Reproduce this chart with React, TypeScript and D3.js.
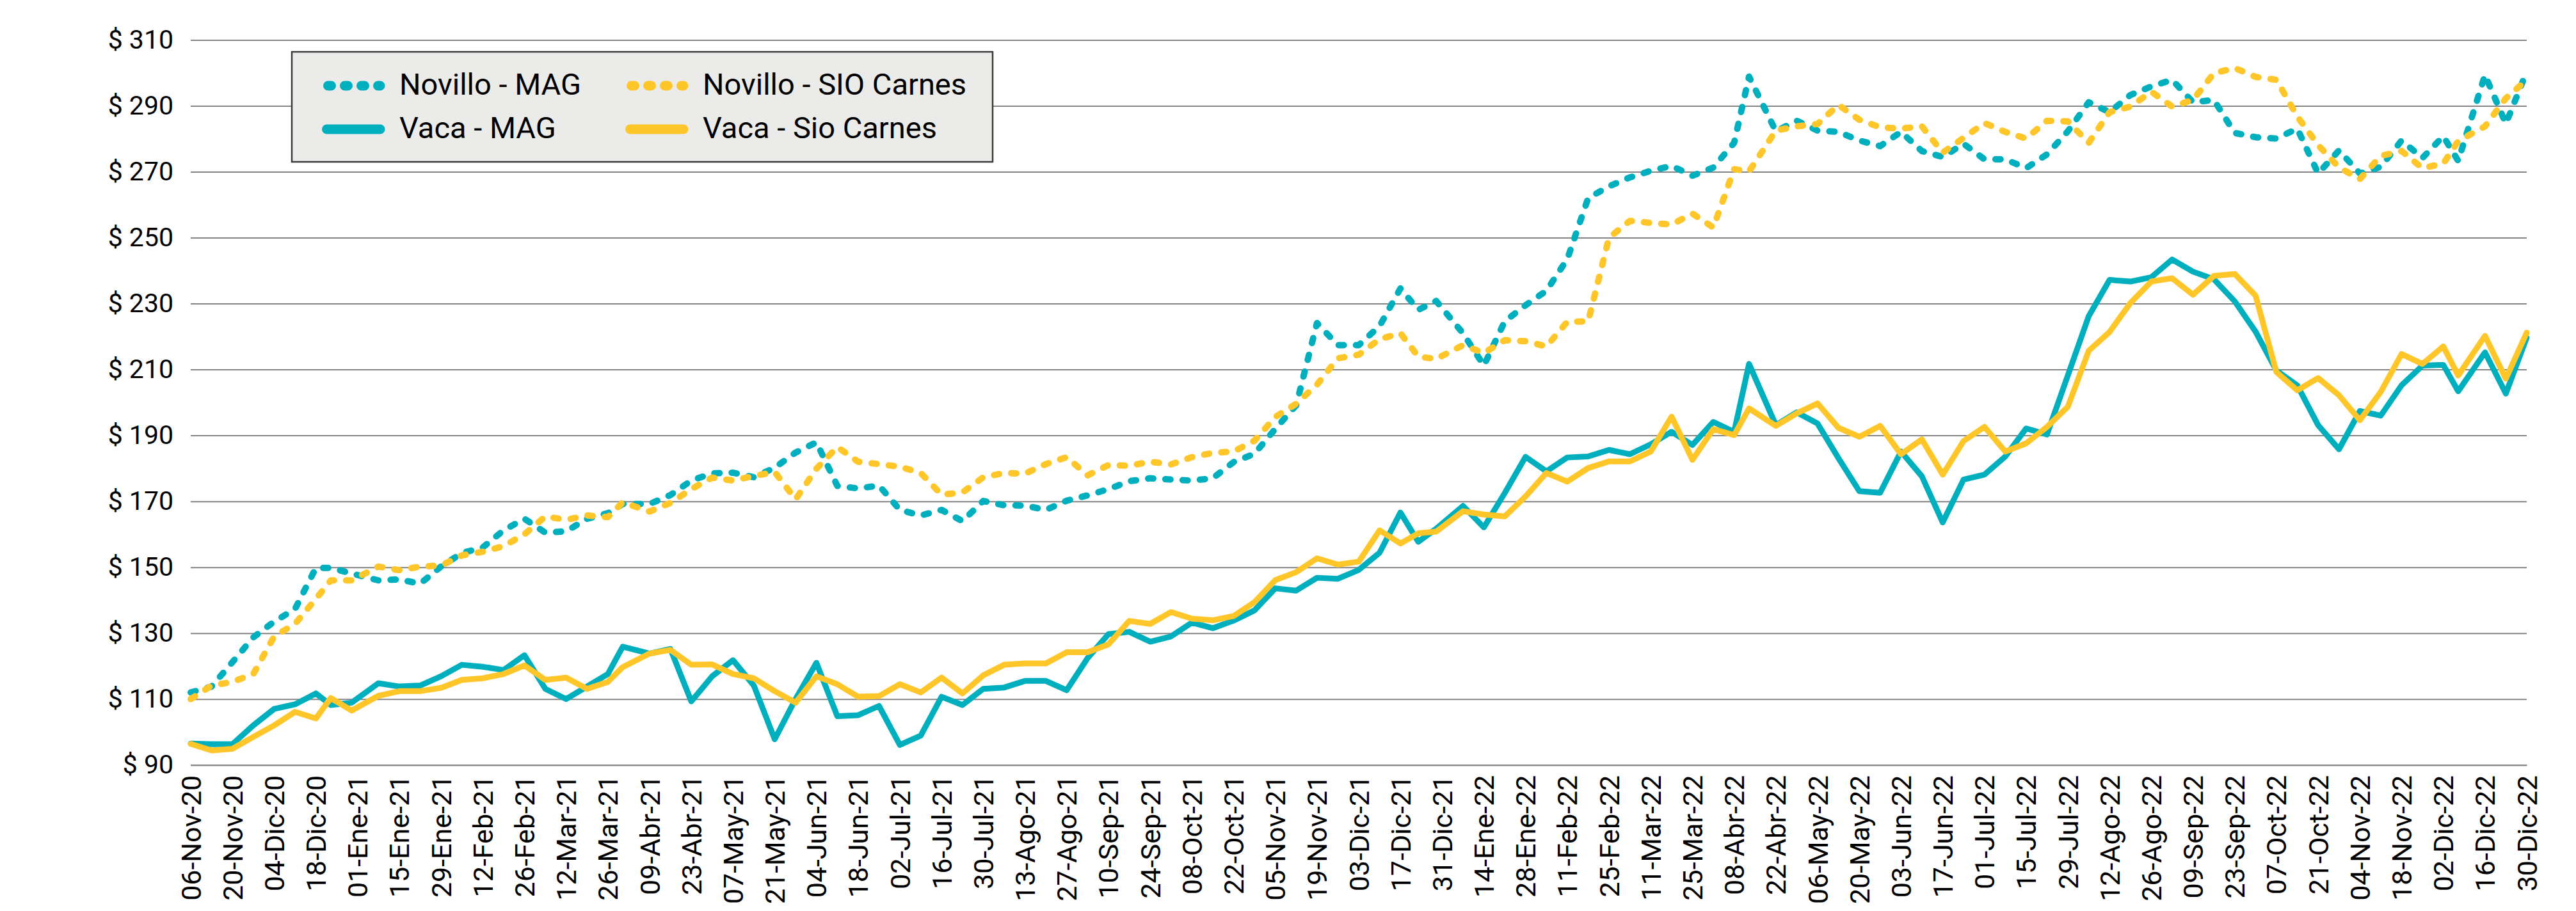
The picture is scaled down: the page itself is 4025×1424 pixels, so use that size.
import * as d3 from 'd3';
import { useRef, useEffect } from 'react';

// weekly quotes (Friday, moved earlier when the Friday was a holiday)
const dates = [
  '2020-11-06', '2020-11-13', '2020-11-20', '2020-11-27', '2020-12-04', '2020-12-11', '2020-12-18', '2020-12-23',
  '2020-12-30', '2021-01-08', '2021-01-15', '2021-01-22', '2021-01-29', '2021-02-05', '2021-02-12', '2021-02-19',
  '2021-02-26', '2021-03-05', '2021-03-12', '2021-03-19', '2021-03-26', '2021-03-31', '2021-04-09', '2021-04-16',
  '2021-04-23', '2021-04-30', '2021-05-07', '2021-05-14', '2021-05-21', '2021-05-28', '2021-06-04', '2021-06-11',
  '2021-06-18', '2021-06-25', '2021-07-02', '2021-07-09', '2021-07-16', '2021-07-23', '2021-07-30', '2021-08-06',
  '2021-08-13', '2021-08-20', '2021-08-27', '2021-09-03', '2021-09-10', '2021-09-17', '2021-09-24', '2021-10-01',
  '2021-10-08', '2021-10-15', '2021-10-22', '2021-10-29', '2021-11-05', '2021-11-12', '2021-11-19', '2021-11-26',
  '2021-12-03', '2021-12-10', '2021-12-17', '2021-12-23', '2021-12-29', '2022-01-07', '2022-01-14', '2022-01-21',
  '2022-01-28', '2022-02-04', '2022-02-11', '2022-02-18', '2022-02-25', '2022-03-04', '2022-03-11', '2022-03-18',
  '2022-03-25', '2022-04-01', '2022-04-08', '2022-04-13', '2022-04-22', '2022-04-29', '2022-05-06', '2022-05-13',
  '2022-05-20', '2022-05-27', '2022-06-03', '2022-06-10', '2022-06-17', '2022-06-24', '2022-07-01', '2022-07-08',
  '2022-07-15', '2022-07-22', '2022-07-29', '2022-08-05', '2022-08-12', '2022-08-19', '2022-08-26', '2022-09-02',
  '2022-09-09', '2022-09-16', '2022-09-23', '2022-09-30', '2022-10-07', '2022-10-14', '2022-10-21', '2022-10-28',
  '2022-11-04', '2022-11-11', '2022-11-18', '2022-11-25', '2022-12-02', '2022-12-07', '2022-12-16', '2022-12-23',
  '2022-12-30',
];

const novilloMag = [
  112.0, 113.8, 121.2, 128.7, 133.5, 137.3, 149.8, 149.8, 148.1, 146.0, 146.3, 145.0, 150.2, 154.3, 156.0, 161.2,
  164.7, 160.5, 160.9, 164.7, 166.4, 169.2, 169.2, 171.9, 176.3, 178.5, 178.7, 177.3, 180.2, 184.8, 187.9, 174.7,
  173.9, 174.8, 167.4, 165.7, 167.4, 164.0, 170.1, 168.8, 168.7, 167.4, 170.2, 171.8, 173.7, 176.1, 177.0, 176.6,
  176.3, 177.0, 181.9, 184.4, 192.0, 199.1, 224.1, 217.4, 217.4, 223.2, 234.6, 228.1, 230.8, 221.0, 211.2, 224.6,
  229.5, 233.9, 243.5, 262.0, 265.6, 268.3, 270.3, 271.8, 268.8, 271.3, 278.8, 298.9, 282.3, 285.5, 282.5, 282.1,
  279.5, 277.8, 282.1, 276.3, 274.5, 278.5, 273.8, 273.8, 271.1, 275.3, 282.3, 291.1, 288.1, 293.3, 295.9, 297.9,
  291.1, 291.8, 281.8, 280.5, 280.1, 283.1, 269.5, 276.5, 269.5, 271.5, 279.5, 274.2, 280.8, 273.3, 299.4, 284.6,
  300.4,
];

const novilloSio = [
  110.0, 114.1, 115.2, 117.6, 129.0, 132.8, 140.4, 146.0, 146.0, 150.2, 149.1, 150.2, 150.5, 153.6, 154.7, 156.4,
  160.0, 165.4, 164.4, 165.7, 165.2, 169.7, 166.9, 169.5, 173.7, 177.2, 176.3, 177.7, 178.9, 170.6, 179.9, 186.5,
  182.0, 181.3, 180.5, 178.6, 172.0, 172.7, 177.3, 178.6, 178.4, 181.3, 183.4, 177.9, 181.0, 180.8, 182.0, 181.2,
  183.4, 184.7, 185.1, 188.4, 195.6, 199.6, 205.4, 213.4, 214.5, 219.2, 221.0, 213.9, 213.2, 217.4, 215.0, 218.9,
  218.6, 217.0, 224.5, 224.6, 250.0, 255.1, 254.5, 254.0, 257.3, 253.1, 270.8, 270.1, 282.5, 283.8, 284.5, 290.3,
  285.8, 283.5, 283.1, 283.8, 275.8, 280.3, 284.8, 282.1, 280.1, 285.5, 285.3, 278.8, 288.1, 289.8, 294.3, 289.8,
  291.8, 299.9, 301.5, 298.8, 297.9, 286.8, 278.1, 271.3, 267.8, 274.8, 276.3, 271.1, 272.5, 279.3, 283.8, 292.3,
  297.9,
];

const vacaMag = [
  96.5, 96.3, 96.3, 102.0, 107.0, 108.4, 111.7, 108.2, 108.9, 114.8, 113.8, 114.1, 116.9, 120.4, 119.8, 118.8,
  123.3, 113.1, 110.0, 113.8, 117.6, 125.9, 123.8, 125.2, 109.3, 116.9, 121.8, 114.1, 97.8, 110.0, 121.0, 104.8,
  105.1, 107.9, 96.1, 98.9, 110.7, 108.2, 113.1, 113.5, 115.5, 115.5, 112.7, 122.4, 129.7, 130.4, 127.4, 129.0,
  133.2, 131.5, 133.8, 136.9, 143.6, 142.9, 146.8, 146.5, 149.2, 154.4, 166.6, 157.7, 161.7, 168.6, 162.1, 172.5,
  183.5, 179.1, 183.3, 183.6, 185.6, 184.3, 187.3, 191.1, 187.1, 194.1, 191.1, 211.7, 193.1, 197.0, 193.6, 183.1,
  173.1, 172.6, 185.1, 177.6, 163.6, 176.6, 178.1, 183.6, 192.1, 190.3, 208.2, 226.2, 237.2, 236.7, 238.0, 243.4,
  239.7, 237.4, 230.7, 221.5, 209.7, 205.2, 193.1, 185.8, 197.4, 196.0, 205.2, 211.2, 211.4, 203.4, 215.2, 202.7,
  219.7,
];

const vacaSio = [
  96.4, 94.4, 94.9, 98.5, 102.0, 106.1, 104.1, 110.3, 106.5, 111.0, 112.4, 112.4, 113.4, 115.8, 116.3, 117.6,
  120.2, 115.8, 116.5, 113.1, 115.2, 119.7, 123.8, 124.9, 120.4, 120.5, 117.6, 116.3, 112.4, 108.9, 116.9, 114.5,
  110.7, 110.9, 114.5, 112.0, 116.5, 111.7, 117.2, 120.4, 120.8, 120.8, 124.2, 124.2, 126.6, 133.7, 132.8, 136.4,
  134.4, 133.9, 135.2, 139.4, 146.1, 148.5, 152.7, 150.8, 151.7, 161.2, 157.2, 160.3, 160.8, 167.0, 166.0, 165.4,
  171.5, 178.6, 176.0, 180.1, 182.1, 182.1, 185.1, 195.7, 182.6, 191.9, 190.1, 198.2, 192.9, 196.7, 199.7, 192.3,
  189.6, 192.9, 184.3, 188.8, 178.1, 188.3, 192.6, 185.1, 187.6, 192.6, 198.7, 215.7, 221.4, 230.2, 236.7, 237.7,
  232.7, 238.4, 239.0, 232.4, 209.2, 203.7, 207.4, 202.2, 194.6, 203.2, 214.7, 211.7, 217.0, 208.2, 220.2, 207.2,
  221.2,
];

const tickLabels = [
  '06-Nov-20', '20-Nov-20', '04-Dic-20', '18-Dic-20', '01-Ene-21', '15-Ene-21', '29-Ene-21', '12-Feb-21',
  '26-Feb-21', '12-Mar-21', '26-Mar-21', '09-Abr-21', '23-Abr-21', '07-May-21', '21-May-21', '04-Jun-21',
  '18-Jun-21', '02-Jul-21', '16-Jul-21', '30-Jul-21', '13-Ago-21', '27-Ago-21', '10-Sep-21', '24-Sep-21',
  '08-Oct-21', '22-Oct-21', '05-Nov-21', '19-Nov-21', '03-Dic-21', '17-Dic-21', '31-Dic-21', '14-Ene-22',
  '28-Ene-22', '11-Feb-22', '25-Feb-22', '11-Mar-22', '25-Mar-22', '08-Abr-22', '22-Abr-22', '06-May-22',
  '20-May-22', '03-Jun-22', '17-Jun-22', '01-Jul-22', '15-Jul-22', '29-Jul-22', '12-Ago-22', '26-Ago-22',
  '09-Sep-22', '23-Sep-22', '07-Oct-22', '21-Oct-22', '04-Nov-22', '18-Nov-22', '02-Dic-22', '16-Dic-22',
  '30-Dic-22',
];

const yTicks = [90, 110, 130, 150, 170, 190, 210, 230, 250, 270, 290, 310];

const months: Record<string, number> = {
  Ene: 0, Feb: 1, Mar: 2, Abr: 3, May: 4, Jun: 5, Jul: 6, Ago: 7, Sep: 8, Oct: 9, Nov: 10, Dic: 11,
};

const TEAL = '#00AFBE';
const GOLD = '#FFC629';
const GRID = '#858585';

const App = () => {
  const svgRef = useRef<SVGSVGElement>(null);

  useEffect(() => {
    if (!svgRef.current) return;
    document.body.style.margin = '0';

    const W = 4025;
    const H = 1424;
    const left = 298;
    const right = 3948;
    const top = 62.5;
    const bottom = 1195.7;

    const svg = d3.select(svgRef.current).attr('width', W).attr('height', H);
    svg.selectAll('*').remove();

    const parse = d3.timeParse('%Y-%m-%d');
    const xDates = dates.map(d => parse(d) as Date);
    const tickDates = tickLabels.map(t => {
      const [dd, mm, yy] = t.split('-');
      return new Date(2000 + +yy, months[mm], +dd);
    });

    const x = d3.scaleTime()
      .domain([xDates[0], xDates[xDates.length - 1]])
      .range([left, right]);

    const y = d3.scaleLinear()
      .domain([90, 310])
      .range([bottom, top]);

    // gridlines + y labels
    const yAxis = svg.append('g')
      .attr('transform', `translate(${left},0)`)
      .call(d3.axisLeft(y)
        .tickValues(yTicks)
        .tickSize(-(right - left))
        .tickPadding(27)
        .tickFormat(d => `$ ${d}`));
    yAxis.select('.domain').remove();
    yAxis.selectAll('line').attr('stroke', GRID).attr('stroke-width', 2);
    yAxis.attr('font-family', 'Roboto').attr('font-size', 41);
    yAxis.selectAll('text').attr('fill', '#000');

    // x axis
    const xAxis = svg.append('g')
      .attr('transform', `translate(0,${bottom})`)
      .call(d3.axisBottom(x)
        .tickValues(tickDates)
        .tickSize(0)
        .tickFormat((_, i) => tickLabels[i]));
    xAxis.select('.domain').attr('stroke', GRID).attr('stroke-width', 2);
    xAxis.attr('font-family', 'Roboto').attr('font-size', 43);
    xAxis.selectAll('text')
      .attr('fill', '#000')
      .attr('transform', 'rotate(-90)')
      .attr('text-anchor', 'end')
      .attr('x', -16)
      .attr('y', 0)
      .attr('dy', '0.35em');

    const series = [
      { name: 'Novillo - MAG', values: novilloMag, color: TEAL, dashed: true },
      { name: 'Novillo - SIO Carnes', values: novilloSio, color: GOLD, dashed: true },
      { name: 'Vaca - MAG', values: vacaMag, color: TEAL, dashed: false },
      { name: 'Vaca - Sio Carnes', values: vacaSio, color: GOLD, dashed: false },
    ];

    const line = d3.line<number>()
      .x((_, i) => x(xDates[i]))
      .y(d => y(d));

    svg.append('g')
      .selectAll('path')
      .data(series)
      .enter()
      .append('path')
      .attr('d', d => line(d.values))
      .attr('fill', 'none')
      .attr('stroke', d => d.color)
      .attr('stroke-width', d => d.dashed ? 10 : 9)
      .attr('stroke-linejoin', 'round')
      .attr('stroke-linecap', 'round')
      .attr('stroke-dasharray', d => d.dashed ? '8,19' : null);

    // legend
    const legend = svg.append('g');
    legend.append('rect')
      .attr('x', 456).attr('y', 81)
      .attr('width', 1095).attr('height', 172)
      .attr('fill', '#EBEBEA')
      .attr('stroke', '#3a3a3a')
      .attr('stroke-width', 2.5);

    const cols = [503, 977];
    const rows = [134, 202];
    series.forEach((s, i) => {
      const cx = cols[i % 2];
      const cy = rows[Math.floor(i / 2)];
      const g = legend.append('g');
      g.append('line')
        .attr('x1', s.dashed ? cx + 9.5 : cx + 7.5)
        .attr('x2', cx + 91)
        .attr('y1', cy).attr('y2', cy)
        .attr('stroke', s.color)
        .attr('stroke-width', 15)
        .attr('stroke-linecap', 'round')
        .attr('stroke-dasharray', s.dashed ? '5,21' : null);
      g.append('text')
        .attr('x', cx + 121)
        .attr('y', cy + 14)
        .attr('font-family', 'Roboto')
        .attr('font-size', 47)
        .attr('fill', '#000')
        .text(s.name);
    });
  }, []);

  return <svg ref={svgRef} style={{ display: 'block' }} />;
};

export default App;
